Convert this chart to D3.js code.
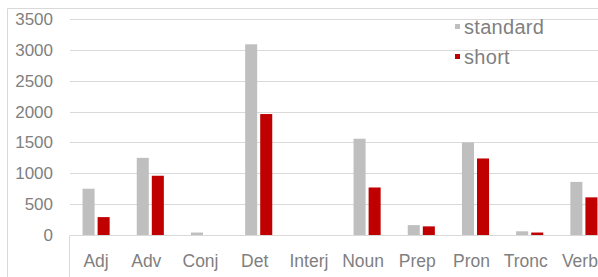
<!DOCTYPE html>
<html>
<head>
<meta charset="utf-8">
<script src="https://cdn.jsdelivr.net/npm/d3@7"></script>
<style>
  body { margin: 0; background: #fff; }
  svg { display: block; font-family: "Liberation Sans", Arial, sans-serif; }
</style>
</head>
<body>
<svg width="598" height="277"></svg>
<script>
// data
const categories = ["Adj", "Adv", "Conj", "Det", "Interj", "Noun", "Prep", "Pron", "Tronc", "Verb"];
const seriesNames = ["standard", "short"];
const standardValues = [750, 1250, 40, 3090, 0, 1560, 160, 1500, 60, 860];
const shortValues = [290, 960, 0, 1960, 0, 770, 140, 1240, 40, 610];
const yTicks = [0, 500, 1000, 1500, 2000, 2500, 3000, 3500];
const colors = { standard: "#bfbfbf", short: "#c00000" };

const svg = d3.select("svg");

// plot area (runs past the right edge, the picture is cropped)
const plotLeft = 69, plotRight = 611, plotTop = 19, plotBottom = 235;

const x0 = d3.scaleBand().domain(categories).range([plotLeft, plotRight]);
const x1 = d3.scaleBand().domain(seriesNames)
    .range([x0.bandwidth() * 0.25, x0.bandwidth() * 0.75])
    .paddingInner(0.2);
const y = d3.scaleLinear().domain([0, 3500]).range([plotBottom, plotTop]);

// outer frame
svg.append("path")
    .attr("d", "M7.5,277 V8.5 H598")
    .attr("fill", "none")
    .attr("stroke", "#d9d9d9");

// gridlines
svg.append("g")
    .selectAll("line")
    .data(yTicks.filter(d => d > 0))
    .enter().append("line")
    .attr("x1", plotLeft + 1).attr("x2", 598)
    .attr("y1", d => Math.round(y(d)) + 0.5)
    .attr("y2", d => Math.round(y(d)) + 0.5)
    .attr("stroke", "#d9d9d9");

// y labels
svg.append("g")
    .selectAll("text")
    .data(yTicks)
    .enter().append("text")
    .attr("x", 53)
    .attr("y", d => y(d))
    .attr("dy", "0.35em")
    .attr("text-anchor", "end")
    .attr("fill", "#7f7f7f")
    .style("font-size", "17px")
    .text(d => d);

// bars
const rows = categories.map((c, i) => ({ cat: c, standard: standardValues[i], short: shortValues[i] }));

const group = svg.append("g")
    .selectAll("g")
    .data(rows)
    .enter().append("g")
    .attr("transform", d => `translate(${x0(d.cat)},0)`);

group.selectAll("rect")
    .data(d => seriesNames.map(s => ({ s: s, v: d[s] })))
    .enter().append("rect")
    .attr("x", d => x1(d.s))
    .attr("width", x1.bandwidth())
    .attr("y", d => y(d.v))
    .attr("height", d => y(0) - y(d.v))
    .attr("fill", d => colors[d.s]);

// category axis
svg.append("path")
    .attr("d", `M${plotLeft + 0.5},277 V${plotBottom + 0.5} H598`)
    .attr("fill", "none")
    .attr("stroke", "#d9d9d9");

svg.append("g")
    .selectAll("text")
    .data(categories)
    .enter().append("text")
    .attr("x", (d, i) => x0(d) + x0.bandwidth() / 2 - (i > 0 ? 4 : 0))
    .attr("y", 267)
    .attr("text-anchor", "middle")
    .attr("fill", "#7f7f7f")
    .style("font-size", "17.5px")
    .text(d => d);

// legend
const legend = svg.append("g")
    .selectAll("g")
    .data(seriesNames)
    .enter().append("g")
    .attr("transform", (d, i) => `translate(455,${26.5 + i * 30})`);

legend.append("rect")
    .attr("x", 0).attr("y", -2.5)
    .attr("width", 5).attr("height", 5)
    .attr("fill", d => colors[d]);

legend.append("text")
    .attr("x", 9)
    .attr("dy", "0.35em")
    .attr("fill", "#7f7f7f")
    .style("font-size", "20px")
    .style("letter-spacing", "0.3px")
    .text(d => d);
</script>
</body>
</html>
